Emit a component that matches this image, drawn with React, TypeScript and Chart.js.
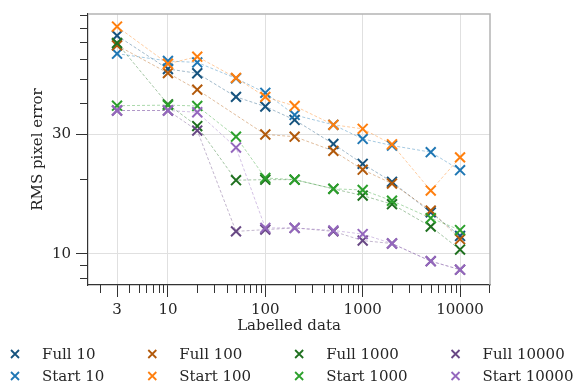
import React, { useEffect, useRef } from "react";
import { Chart, registerables } from "chart.js";

Chart.register(...registerables);

// ---- data ----
const labelledData = [3, 10, 20, 50, 100, 200, 500, 1000, 2000, 5000, 10000];

const full10 = [74.5, 54.8, 52.7, 42.4, 38.8, 34.3, 27.5, 22.9, 19.4, 14.65, 11.8];
const start10 = [63.1, 59.0, 58.2, 50.3, 44.0, 35.9, 32.8, 28.8, 27.1, 25.5, 21.6];
const full100 = [68.1, 52.8, 45.3, null, 30.0, 29.4, 25.8, 21.7, 19.1, 14.9, 11.45];
const start100 = [81.0, 57.5, 61.4, 50.5, 42.4, 39.0, 32.8, 31.6, 27.4, 17.9, 24.3];
const full1000 = [69.6, 39.6, 32.4, 19.7, 19.8, 19.8, 18.2, 17.1, 15.8, 12.85, 10.4];
const start1000 = [39.1, 39.3, 39.0, 29.4, 20.1, 19.8, 18.2, 18.0, 16.3, 13.9, 12.45];
const full10000 = [37.4, 37.4, 31.1, 12.3, 12.5, 12.7, 12.3, 11.3, 11.0, 9.35, 8.65];
const start10000 = [37.4, 37.4, 36.8, 26.6, 12.7, 12.7, 12.4, 12.0, 11.0, 9.35, 8.65];

const seriesLabels = [
  "Full 10", "Start 10", "Full 100", "Start 100",
  "Full 1000", "Start 1000", "Full 10000", "Start 10000",
];
const seriesValues = [full10, start10, full100, start100, full1000, start1000, full10000, start10000];
const seriesColors = [
  "#16537e", "#1f77b4", "#b2590a", "#ff7f0e",
  "#1f701f", "#2ca02c", "#684884", "#9467bd",
];

const xMajorTicks = [3, 10, 100, 1000, 10000];
const yMajorTicks = [10, 30];
const xMinorTicks = [2, 4, 5, 6, 7, 8, 9, 20, 30, 40, 50, 60, 70, 80, 90, 200, 300, 400, 500, 600, 700, 800, 900,
  2000, 3000, 4000, 5000, 6000, 7000, 8000, 9000, 20000];
const yMinorTicks = [8, 9, 20, 40, 50, 60, 70, 80, 90];

const X_MIN = 1.51, X_MAX = 20300;
const Y_MIN = 7.51, Y_MAX = 90.9;

const FONT = "'DejaVu Serif', serif";
const TEXT = "#262626";
const AXIS = "#333333";

function hexToRgba(hex: string, a: number) {
  const n = parseInt(hex.slice(1), 16);
  return `rgba(${(n >> 16) & 255},${(n >> 8) & 255},${n & 255},${a})`;
}

const framePlugin = {
  id: "frameAndMinor",
  beforeDatasetsDraw(chart: any) {
    const { ctx, chartArea } = chart;
    const { left, right, top, bottom } = chartArea;
    ctx.save();
    ctx.strokeStyle = "#b4b4b4";
    ctx.lineWidth = 1.5;
    ctx.beginPath();
    ctx.moveTo(left, top);
    ctx.lineTo(right, top);
    ctx.lineTo(right, bottom);
    ctx.stroke();

    ctx.strokeStyle = AXIS;
    ctx.lineWidth = 1;
    ctx.beginPath();
    const xs = chart.scales.x;
    for (const v of xMinorTicks) {
      const px = Math.round(xs.getPixelForValue(v)) + 0.5;
      if (px < left - 1 || px > right + 1) continue;
      ctx.moveTo(px, bottom);
      ctx.lineTo(px, bottom + 8);
    }
    const ys = chart.scales.y;
    for (const v of yMinorTicks) {
      const py = Math.round(ys.getPixelForValue(v)) + 0.5;
      if (py < top - 1 || py > bottom + 1) continue;
      ctx.moveTo(left, py);
      ctx.lineTo(left - 8, py);
    }
    ctx.stroke();
    ctx.restore();
  },
};

const legendPlugin = {
  id: "gridLegend",
  afterDraw(chart: any) {
    const { ctx } = chart;
    const ds = chart.data.datasets;
    ctx.save();
    ctx.font = `15px ${FONT}`;
    ctx.textBaseline = "middle";
    ctx.textAlign = "left";
    const rows = 2;
    const cols = Math.ceil(ds.length / rows);
    const markerToText = 27;
    const colGap = 48;
    const rowY = [354, 376];
    let x = 15;
    for (let c = 0; c < cols; c++) {
      let maxW = 0;
      for (let r = 0; r < rows; r++) {
        const d = ds[c * rows + r];
        if (!d) continue;
        const w = ctx.measureText(d.label).width;
        if (w > maxW) maxW = w;
        const y = rowY[r];
        const h = 4;
        ctx.strokeStyle = d.pointBorderColor;
        ctx.lineWidth = 1.8;
        ctx.beginPath();
        ctx.moveTo(x - h, y - h);
        ctx.lineTo(x + h, y + h);
        ctx.moveTo(x - h, y + h);
        ctx.lineTo(x + h, y - h);
        ctx.stroke();
        ctx.fillStyle = TEXT;
        ctx.fillText(d.label, x + markerToText, y + 1);
      }
      x += markerToText + maxW + colGap;
    }
    ctx.restore();
  },
};

export default function App() {
  const canvasRef = useRef<HTMLCanvasElement | null>(null);

  useEffect(() => {
    const canvas = canvasRef.current;
    if (!canvas) return;
    Chart.defaults.font.family = FONT;
    Chart.defaults.font.size = 15;
    Chart.defaults.color = TEXT;

    const datasets = seriesLabels.map((label, i) => ({
      label,
      data: labelledData.map((x, j) => ({ x, y: seriesValues[i][j] })),
      borderColor: hexToRgba(seriesColors[i], 0.4),
      borderWidth: 1,
      borderDash: [3, 2],
      pointStyle: "crossRot",
      pointRadius: 7,
      pointHoverRadius: 7,
      pointBorderWidth: 2,
      pointBorderColor: seriesColors[i],
      pointBackgroundColor: seriesColors[i],
      fill: false,
      tension: 0,
      spanGaps: true,
      clip: false,
      order: seriesLabels.length - 1 - i,
    }));

    const chart = new Chart(canvas, {
      type: "line",
      data: { datasets } as any,
      options: {
        responsive: false,
        animation: false,
        layout: { padding: { left: 0, right: 87, top: 9, bottom: 0 } },
        plugins: {
          legend: { display: false },
          tooltip: { enabled: false },
        },
        scales: {
          x: {
            type: "logarithmic",
            min: X_MIN,
            max: X_MAX,
            afterBuildTicks: (scale: any) => {
              scale.ticks = xMajorTicks.map((v) => ({ value: v }));
            },
            afterFit: (scale: any) => {
              scale.height = 102;
            },
            ticks: {
              autoSkip: false,
              maxRotation: 0,
              padding: 4,
              color: TEXT,
              font: { family: FONT, size: 15 },
              callback: (v: any) => String(v),
            },
            grid: {
              color: "#e0e0e0",
              lineWidth: 1,
              tickColor: AXIS,
              tickLength: 12,
              tickWidth: 1,
            },
            border: { display: true, color: AXIS, width: 1.2 },
            title: {
              display: true,
              text: "Labelled data",
              color: TEXT,
              font: { family: FONT, size: 15 },
              padding: { top: 0, bottom: 52 },
            },
          },
          y: {
            type: "logarithmic",
            min: Y_MIN,
            max: Y_MAX,
            afterBuildTicks: (scale: any) => {
              scale.ticks = yMajorTicks.map((v) => ({ value: v }));
            },
            afterFit: (scale: any) => {
              scale.width = 88;
            },
            ticks: {
              autoSkip: false,
              padding: 5,
              color: TEXT,
              font: { family: FONT, size: 15 },
              callback: (v: any) => String(v),
            },
            grid: {
              color: "#e0e0e0",
              lineWidth: 1,
              tickColor: AXIS,
              tickLength: 12,
              tickWidth: 1,
            },
            border: { display: true, color: AXIS, width: 1.2 },
            title: {
              display: true,
              text: "RMS pixel error",
              color: TEXT,
              font: { family: FONT, size: 15 },
              padding: { top: 29, bottom: 0 },
            },
          },
        },
      } as any,
      plugins: [framePlugin, legendPlugin],
    });

    return () => chart.destroy();
  }, []);

  return (
    <div style={{ position: "absolute", left: 0, top: 0, width: 577, height: 387, background: "#fff" }}>
      <canvas ref={canvasRef} width={577} height={387} style={{ display: "block" }} />
    </div>
  );
}
